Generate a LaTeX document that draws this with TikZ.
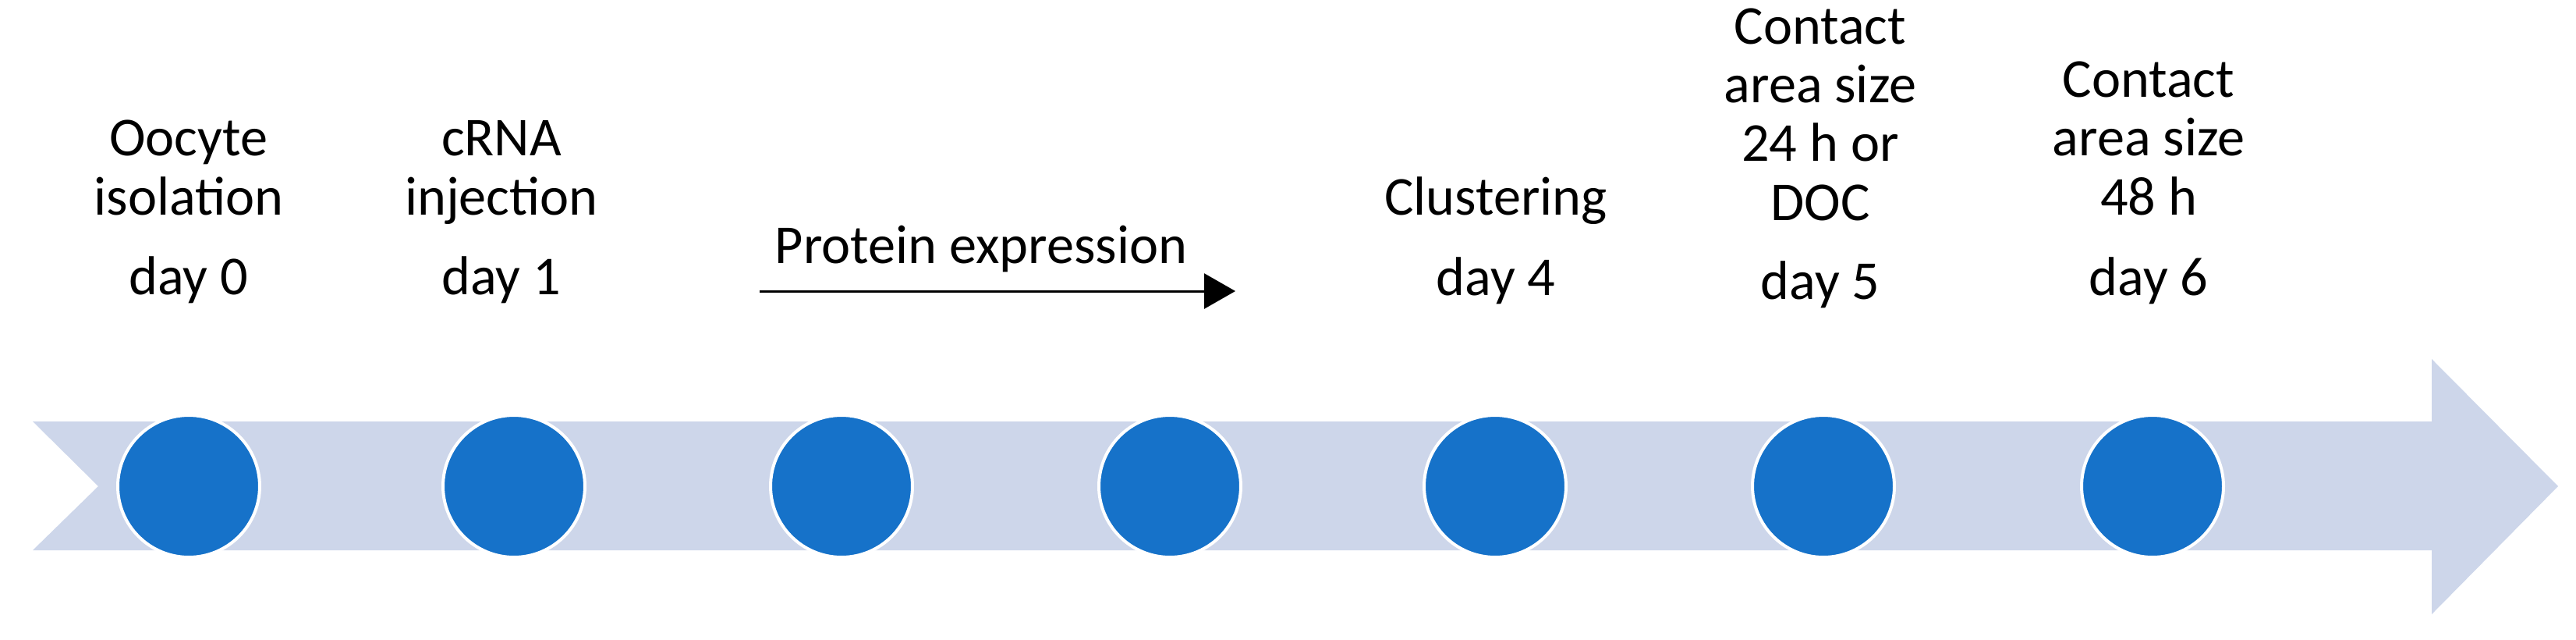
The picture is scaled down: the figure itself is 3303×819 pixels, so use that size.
\documentclass[tikz,border=0pt]{standalone}
\usepackage{fontspec}
\setmainfont{Carlito}
\usetikzlibrary{arrows.meta}
\definecolor{band}{HTML}{CDD6EA}
\definecolor{dot}{HTML}{1672C9}
\begin{document}
\begin{tikzpicture}[x=0.02cm,y=-0.02cm,
  dotst/.style={circle,fill=dot,draw=white,line width=0.08cm,minimum size=3.64cm,inner sep=0},
  lbl/.style={anchor=base,align=center,font=\fontsize{40}{42.7}\selectfont}]
\useasboundingbox (0,0) rectangle (3303,819);
\fill[band] (42,540) -- (3118,540) -- (3118,460) -- (3280,623) -- (3118,787) -- (3118,705) -- (42,705) -- (126,623) -- cycle;
\foreach \n/\x in {a/242,b/659,c/1079,d/1500,e/1917,f/2338,g/2760}
  \node[dotst] (\n) at (\x,623) {};
\node[lbl] (t1) at (242,275) {Oocyte\\isolation};
\node[lbl] (d1) at (242,377) {day 0};
\node[lbl] (t2) at (643,275) {cRNA\\injection};
\node[lbl] (d2) at (643,377) {day 1};
\node[lbl] (t5) at (1918,275) {Clustering};
\node[lbl] (d5) at (1918,378) {day 4};
\node[lbl] (t6) at (2334,282) {Contact\\area size\\24 h or\\DOC};
\node[lbl] (d6) at (2334,383) {day 5};
\node[lbl] (t7) at (2755,275) {Contact\\area size\\48 h};
\node[lbl] (d7) at (2755,378) {day 6};
\node[lbl] (pe) at (1258,337) {Protein expression};
\coordinate (ps) at (974,373);
\coordinate (pt) at (1584,373);
\draw[line width=0.06cm,-{Triangle[length=0.8cm,width=0.9cm]}] (ps) -- (pt);
\end{tikzpicture}
\end{document}
